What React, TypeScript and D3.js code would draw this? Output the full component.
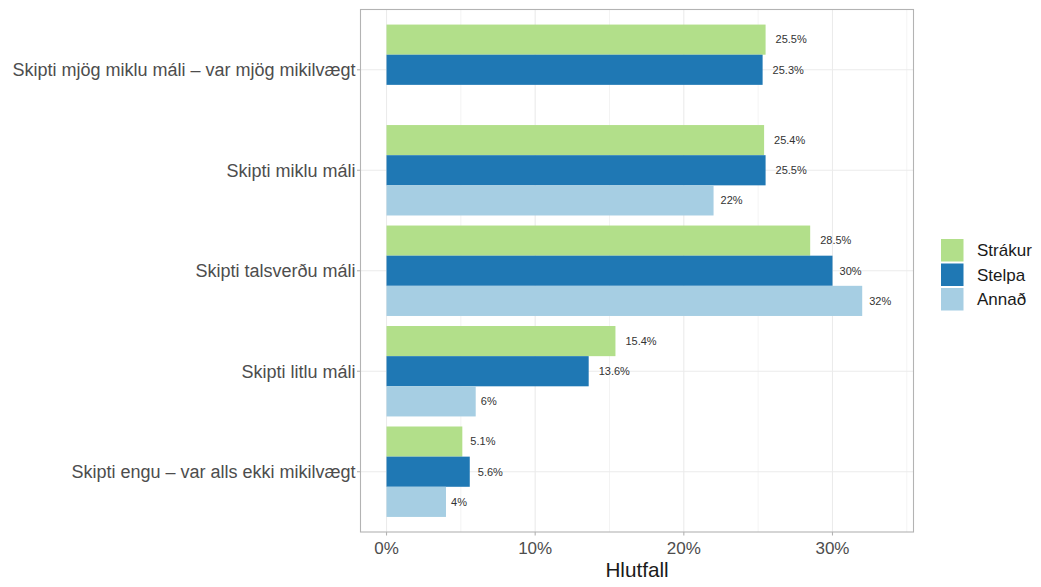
import React from "react";
import * as d3 from "d3";

const categories = [
  "Skipti mjög miklu máli – var mjög mikilvægt",
  "Skipti miklu máli",
  "Skipti talsverðu máli",
  "Skipti litlu máli",
  "Skipti engu – var alls ekki mikilvægt",
];
const seriesNames = ["Strákur", "Stelpa", "Annað"];
const seriesColors = ["#b2df8a", "#1f78b4", "#a6cee3"];
const strakur = [25.5, 25.4, 28.5, 15.4, 5.1];
const stelpa = [25.3, 25.5, 30, 13.6, 5.6];
const annad: (number | null)[] = [null, 22, 32, 6, 4];
const labelsStrakur = ["25.5%", "25.4%", "28.5%", "15.4%", "5.1%"];
const labelsStelpa = ["25.3%", "25.5%", "30%", "13.6%", "5.6%"];
const labelsAnnad = ["", "22%", "32%", "6%", "4%"];
const xTicks = [0, 10, 20, 30];
const xMinor = [5, 15, 25, 35];

const FONT = "'Liberation Sans', Arial, sans-serif";

let ctx: CanvasRenderingContext2D | null = null;
function textWidth(t: string, size: number) {
  if (!ctx) ctx = document.createElement("canvas").getContext("2d");
  if (!ctx) return t.length * size * 0.55;
  ctx.font = `${size}px ${FONT}`;
  return ctx.measureText(t).width;
}

export default function App() {
  const W = 1041, H = 587;
  const pL = 360.5, pR = 913.5, pT = 9.5, pB = 532;
  const x = d3.scaleLinear().domain([-1.75, 35.45]).range([pL, pR]);
  const y = d3.scaleLinear().domain([0.4, 5.6]).range([pT, pB]);
  const values = [strakur, stelpa, annad];
  const labels = [labelsStrakur, labelsStelpa, labelsAnnad];
  const bw = 0.3;

  const bars: React.ReactNode[] = [];
  const texts: React.ReactNode[] = [];
  categories.forEach((c, i) => {
    const center = i + 1;
    values.forEach((vals, s) => {
      const v = vals[i];
      if (v == null) return;
      const top = y(center - 0.45 + s * bw);
      const bot = y(center - 0.45 + (s + 1) * bw);
      bars.push(
        <rect key={`b${i}-${s}`} x={x(0)} y={top} width={x(v) - x(0)} height={bot - top} fill={seriesColors[s]} />
      );
      const lab = labels[s][i];
      const w = textWidth(lab, 11);
      texts.push(
        <text key={`t${i}-${s}`} x={x(v) + 0.32 * w} y={(top + bot) / 2} dy="0.35em" fontSize={11} fill="#333" fontFamily={FONT}>
          {lab}
        </text>
      );
    });
  });

  return (
    <svg width={W} height={H} style={{ position: "absolute", left: 0, top: 0 }} fontFamily={FONT}>
      <rect x={0} y={0} width={W} height={H} fill="white" />
      {xMinor.map((t) => (
        <line key={`mn${t}`} x1={x(t)} x2={x(t)} y1={pT} y2={pB} stroke="#ebebeb" strokeWidth={0.6} />
      ))}
      {xTicks.map((t) => (
        <line key={`mj${t}`} x1={x(t)} x2={x(t)} y1={pT} y2={pB} stroke="#ebebeb" strokeWidth={1.1} />
      ))}
      {categories.map((c, i) => (
        <line key={`gy${i}`} x1={pL} x2={pR} y1={y(i + 1)} y2={y(i + 1)} stroke="#ebebeb" strokeWidth={1.1} />
      ))}
      {bars}
      {texts}
      <rect x={pL} y={pT} width={pR - pL} height={pB - pT} fill="none" stroke="#b3b3b3" strokeWidth={1.1} />
      {categories.map((c, i) => (
        <g key={`ya${i}`}>
          <line x1={pL - 3.5} x2={pL} y1={y(i + 1)} y2={y(i + 1)} stroke="#b3b3b3" strokeWidth={1.1} />
          <text x={pL - 5} y={y(i + 1)} dy="0.35em" textAnchor="end" fontSize={18} fill="#4d4d4d">
            {c}
          </text>
        </g>
      ))}
      {xTicks.map((t) => (
        <g key={`xa${t}`}>
          <line x1={x(t)} x2={x(t)} y1={pB} y2={pB + 3.5} stroke="#b3b3b3" strokeWidth={1.1} />
          <text x={x(t)} y={pB + 16} dy="0.35em" textAnchor="middle" fontSize={17} fill="#4d4d4d">
            {`${t}%`}
          </text>
        </g>
      ))}
      <text x={(pL + pR) / 2} y={577} textAnchor="middle" fontSize={20.7} fill="#1a1a1a">
        Hlutfall
      </text>
      {seriesNames.map((n, s) => (
        <g key={`lg${s}`}>
          <rect x={941} y={239 + s * 24.5} width={22.5} height={22.5} fill={seriesColors[s]} />
          <text x={977} y={239 + s * 24.5 + 11.25} dy="0.35em" fontSize={17} fill="#1a1a1a">
            {n}
          </text>
        </g>
      ))}
    </svg>
  );
}
